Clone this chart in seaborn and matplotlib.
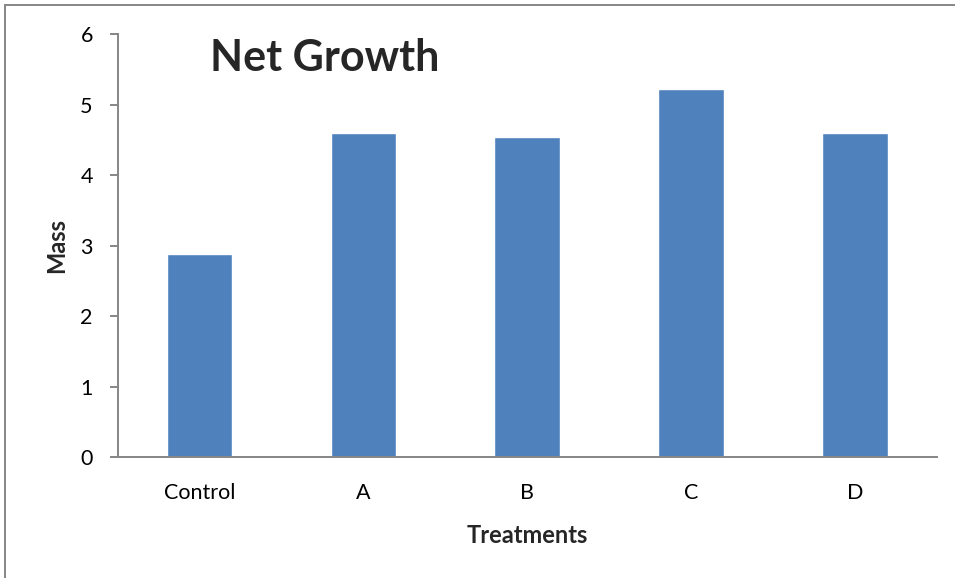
# Net Growth bar chart (Excel-style look)
import pandas as pd
import seaborn as sns
import matplotlib.pyplot as plt
from matplotlib.patches import Rectangle

# data
treatments = ["Control", "A", "B", "C", "D"]
mass = [2.88, 4.60, 4.54, 5.22, 4.60]

df = pd.DataFrame({"Treatments": treatments, "Mass": mass})

sns.set_theme(style="white")
plt.rcParams["font.family"] = ["Lato", "DejaVu Sans"]

axis_gray = "#868686"
bar_blue = "#4F81BD"

fig = plt.figure(figsize=(9.55, 5.78), dpi=100)
ax = fig.add_axes([0.1233, 0.2088, 0.8576, 0.7324])

sns.barplot(data=df, x="Treatments", y="Mass", color=bar_blue,
            width=0.4, saturation=1, ax=ax)

ax.set_xlim(-0.5, len(treatments) - 0.5)
ax.set_ylim(0, 6)
ax.set_yticks(range(0, 7))

# category boundary ticks, labels in the middle
ax.set_xticks([i - 0.5 for i in range(len(treatments) + 1)], minor=True)
ax.tick_params(axis="x", which="major", length=0, labelsize=15.5, pad=18.5, colors="black")
ax.tick_params(axis="x", which="minor", length=6, width=1.4, color=axis_gray, direction="out")
ax.tick_params(axis="y", length=6, width=1.4, color=axis_gray, labelsize=15.5,
               pad=12, labelcolor="black", left=True)
ax.xaxis.set_tick_params(bottom=True)

for side in ["top", "right"]:
    ax.spines[side].set_visible(False)
for side in ["left", "bottom"]:
    ax.spines[side].set_color(axis_gray)
    ax.spines[side].set_linewidth(1.4)

ax.set_xlabel("Treatments", fontsize=17, fontweight="bold", labelpad=15)
ax.set_ylabel("Mass", fontsize=17, fontweight="bold", labelpad=9)

fig.text(0.22, 0.9, "Net Growth", fontsize=31, fontweight="bold", va="center", ha="left")

# outer chart border (only top and left show inside the image)
fig.patches.append(Rectangle((5 / 955, -0.05), 1.2, 1 - 5 / 578 + 0.05,
                             transform=fig.transFigure, fill=False,
                             edgecolor=axis_gray, linewidth=1.4))

fig.savefig("out.png", dpi=100)
